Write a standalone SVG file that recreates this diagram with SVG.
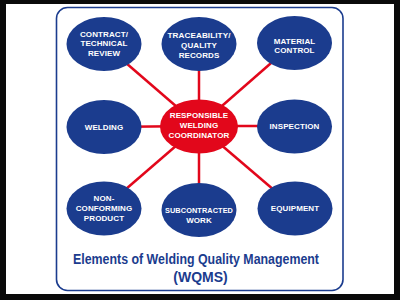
<svg xmlns="http://www.w3.org/2000/svg" width="400" height="300" viewBox="0 0 400 300">
<style>
.bn{fill:#1b3c8e}
.rn{fill:#e2071b}
.t{font-family:"Liberation Sans",Arial,sans-serif;font-weight:bold;font-size:8px;fill:#fff;text-anchor:middle;letter-spacing:0.1px}
.c{stroke:#e2071b;stroke-width:2.5;fill:none}
.ttl{font-family:"Liberation Sans",Arial,sans-serif;font-weight:bold;font-size:14px;fill:#1b3c8e;text-anchor:middle}
</style>
<rect x="0" y="0" width="400" height="300" fill="#0a0a0a"/>
<rect x="6" y="4" width="388" height="290" fill="#fff"/>
<rect x="56.5" y="7.5" width="286.5" height="283" rx="11" fill="#fff" stroke="#1b3c8e" stroke-width="1.6"/>
<g id="connectors">
<line class="c" x1="199" y1="126" x2="104" y2="44"/>
<line class="c" x1="199" y1="126" x2="199" y2="44"/>
<line class="c" x1="199" y1="126" x2="294" y2="43"/>
<line class="c" x1="199" y1="126" x2="104" y2="127"/>
<line class="c" x1="199" y1="126" x2="294" y2="126"/>
<line class="c" x1="199" y1="126" x2="104" y2="208"/>
<line class="c" x1="199" y1="126" x2="199" y2="210"/>
<line class="c" x1="199" y1="126" x2="295" y2="208"/>
</g>
<g id="contract"><ellipse class="bn" cx="104" cy="44" rx="37.5" ry="27"/><text class="t" x="104" y="37">CONTRACT/</text><text class="t" x="104" y="46.3">TECHNICAL</text><text class="t" x="104" y="55.7">REVIEW</text></g>
<g id="traceability"><ellipse class="bn" cx="199" cy="44" rx="37.5" ry="27"/><text class="t" x="199" y="38" textLength="63" lengthAdjust="spacingAndGlyphs">TRACEABILITY/</text><text class="t" x="199" y="47.8">QUALITY</text><text class="t" x="199" y="57.7">RECORDS</text></g>
<g id="material"><ellipse class="bn" cx="294.5" cy="43" rx="37.5" ry="27"/><text class="t" x="294.5" y="43.5">MATERIAL</text><text class="t" x="294.5" y="53.2">CONTROL</text></g>
<g id="welding"><ellipse class="bn" cx="104" cy="127" rx="37.5" ry="27"/><text class="t" x="104" y="129.8">WELDING</text></g>
<g id="rwc"><ellipse class="rn" cx="199" cy="126.5" rx="39" ry="27"/><text class="t" x="199" y="117.8">RESPONSIBLE</text><text class="t" x="199" y="128">WELDING</text><text class="t" x="199" y="138">COORDINATOR</text></g>
<g id="inspection"><ellipse class="bn" cx="294.5" cy="126.5" rx="37.5" ry="27"/><text class="t" x="294.5" y="128.8">INSPECTION</text></g>
<g id="nonconforming"><ellipse class="bn" cx="104" cy="208.5" rx="37.5" ry="27"/><text class="t" x="104" y="201">NON-</text><text class="t" x="104" y="211">CONFORMING</text><text class="t" x="104" y="220.8">PRODUCT</text></g>
<g id="subcontracted"><ellipse class="bn" cx="199" cy="210" rx="37.5" ry="27"/><text class="t" x="199" y="212.8" textLength="68" lengthAdjust="spacingAndGlyphs">SUBCONTRACTED</text><text class="t" x="199" y="222.8">WORK</text></g>
<g id="equipment"><ellipse class="bn" cx="295" cy="208.5" rx="37.5" ry="27"/><text class="t" x="295" y="211">EQUIPMENT</text></g>
<g id="title"><text class="ttl" x="196" y="264" textLength="246" lengthAdjust="spacingAndGlyphs">Elements of Welding Quality Management</text><text class="ttl" x="200.5" y="281.5">(WQMS)</text></g>
</svg>
